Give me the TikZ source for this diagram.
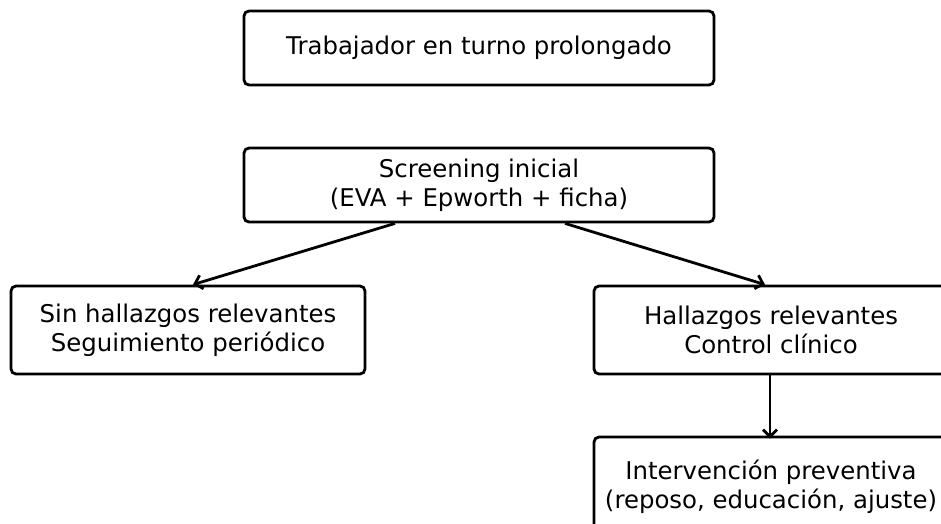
\documentclass[tikz,border=0pt]{standalone}
\usepackage{fontspec}
\setmainfont{DejaVu Sans}
\usetikzlibrary{arrows.meta}
\begin{document}
\begin{tikzpicture}[x=1pt,y=-1pt,
  box/.style={draw=black, line width=2.8pt, rounded corners=5pt, fill=white,
    align=center, inner sep=0pt, font=\fontsize{24.4}{28.6}\selectfont},
  arr/.style={draw=black, line width=2.8pt, -{Straight Barb[length=7pt,width=14pt,line width=2.8pt]}}]
\useasboundingbox (0,0) rectangle (941,523);
\clip (0,0) rectangle (941,523);
\node[box, minimum width=470pt, minimum height=74pt] (top) at (479,48) {Trabajador en turno prolongado};
\node[box, minimum width=470pt, minimum height=74pt] (screen) at (479,185) {Screening inicial\\(EVA + Epworth + ficha)};
\node[box, minimum width=354pt, minimum height=88pt] (left) at (188,330) {Sin hallazgos relevantes\\Seguimiento periódico};
\node[box, minimum width=354pt, minimum height=88pt] (right) at (771,330) {Hallazgos relevantes\\Control clínico};
\node[box, minimum width=354pt, minimum height=100pt] (bottom) at (771,487) {Intervención preventiva\\(reposo, educación, ajuste)};
\draw[arr] ([xshift=-84pt]screen.south) -- ([xshift=5pt]left.north);
\draw[arr] ([xshift=86pt]screen.south) -- ([xshift=-6pt]right.north);
\draw[arr] ([xshift=-1pt]right.south) -- ([xshift=-1pt,yshift=-3pt]bottom.north);
\end{tikzpicture}
\end{document}
